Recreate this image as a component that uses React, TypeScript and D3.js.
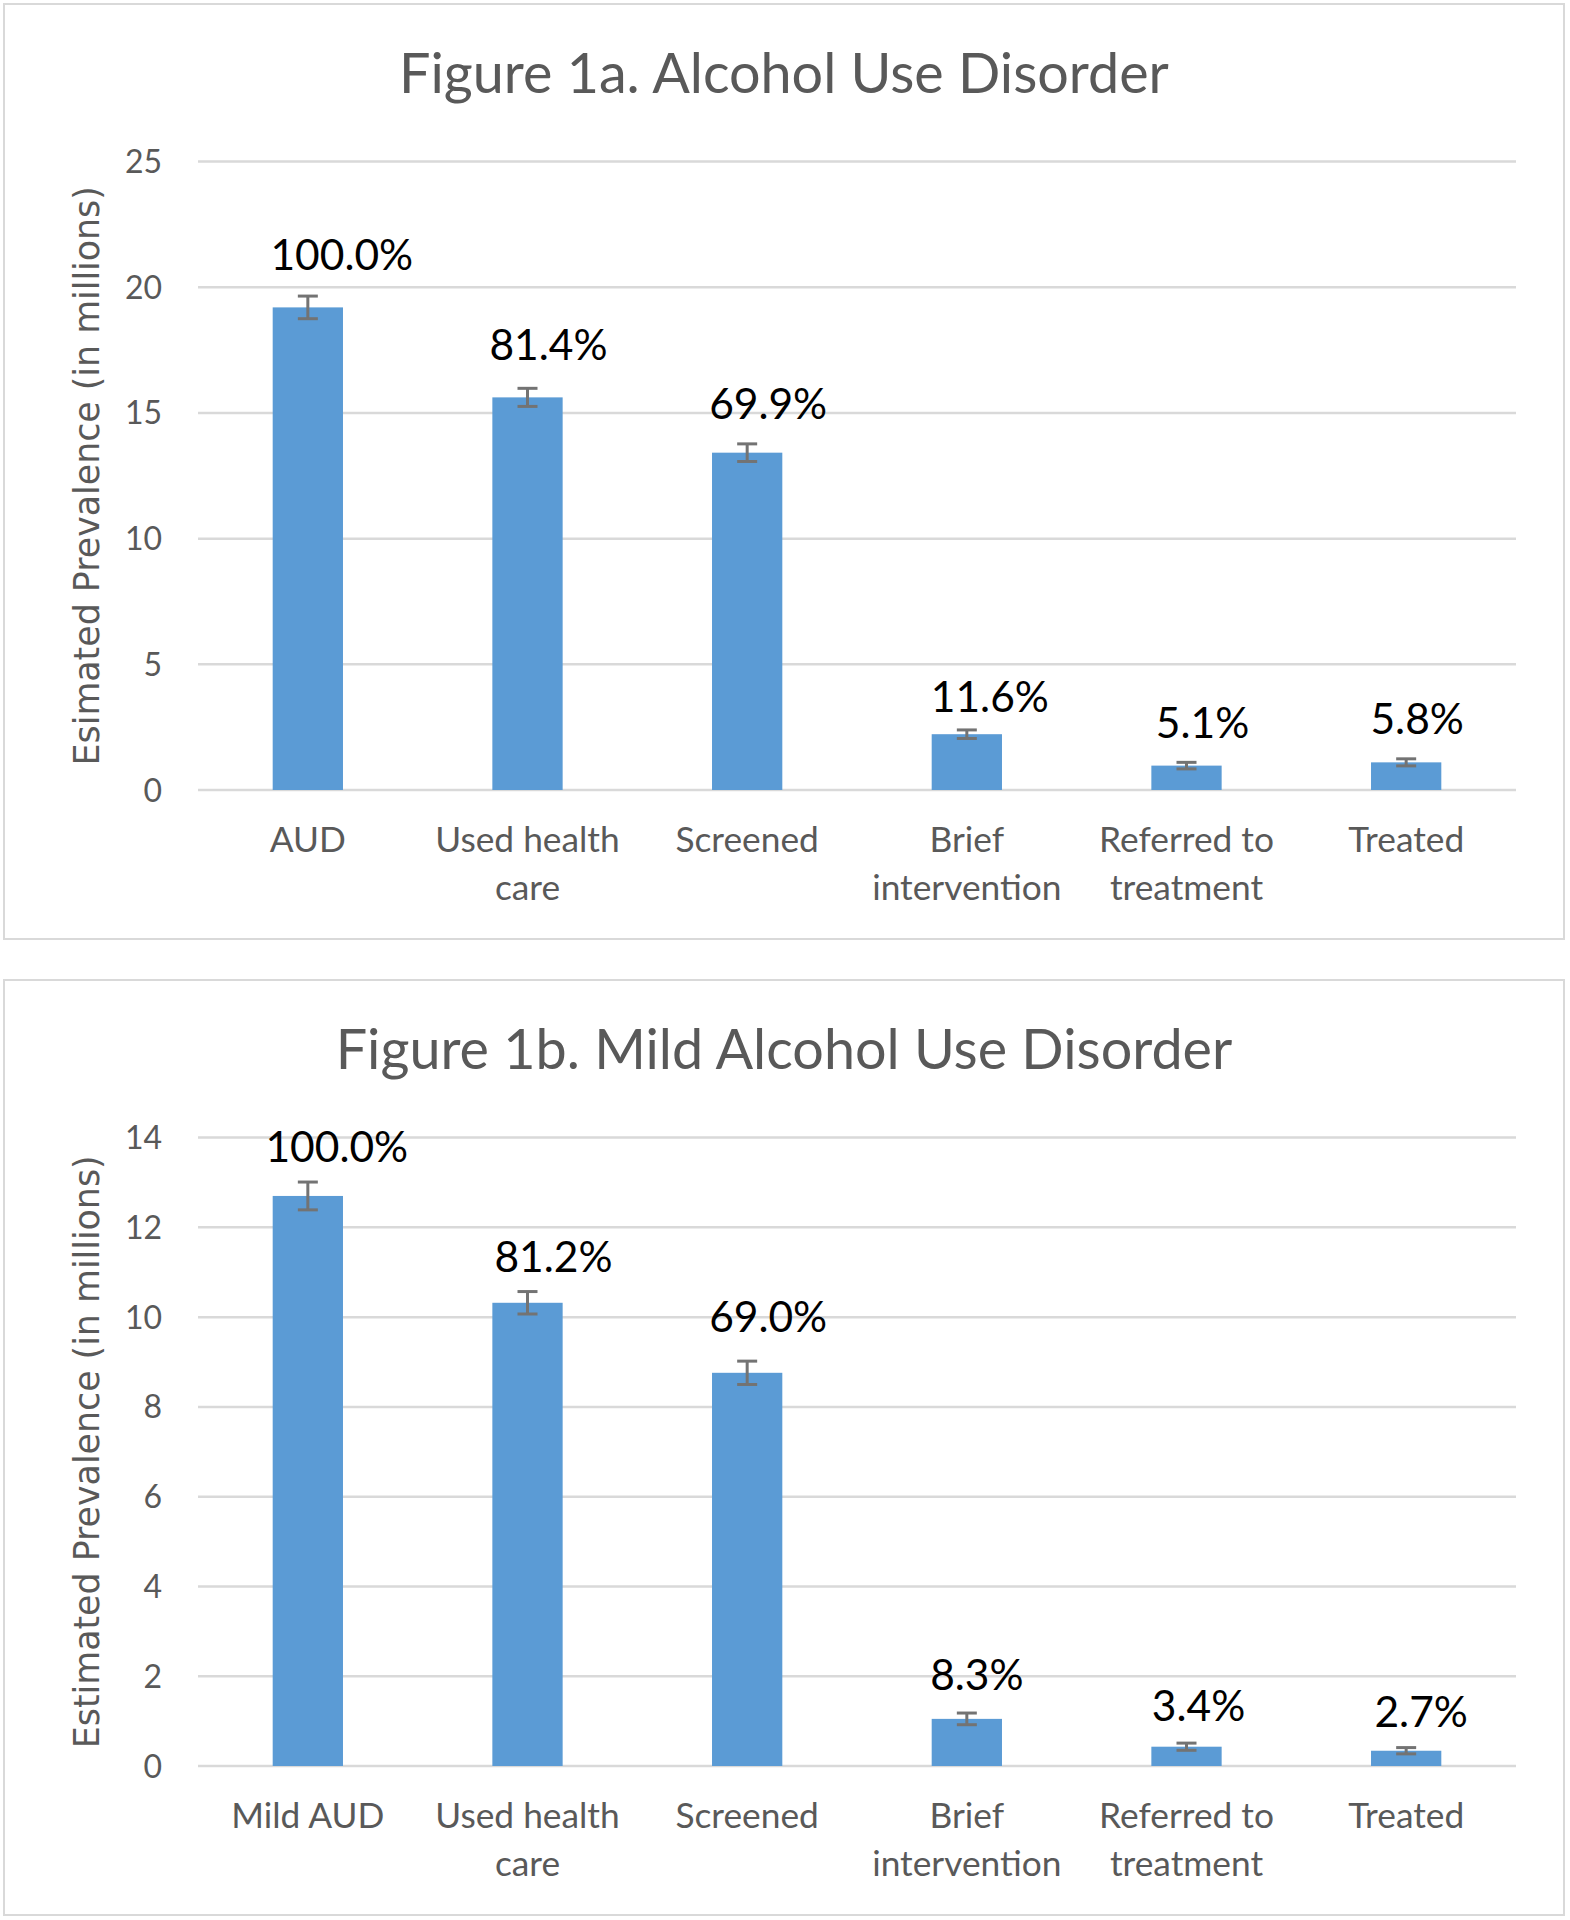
import React from "react";
import * as d3 from "d3";

// ---------- data ----------
const categoriesA: string[][] = [["AUD"], ["Used health", "care"], ["Screened"], ["Brief", "intervention"], ["Referred to", "treatment"], ["Treated"]];
const valuesA: number[] = [19.2, 15.62, 13.42, 2.22, 0.97, 1.1];
const errorsA: number[] = [0.45, 0.36, 0.35, 0.17, 0.13, 0.14];
const percentLabelsA: string[] = ["100.0%", "81.4%", "69.9%", "11.6%", "5.1%", "5.8%"];
const ticksA: number[] = [0, 5, 10, 15, 20, 25];

const categoriesB: string[][] = [["Mild AUD"], ["Used health", "care"], ["Screened"], ["Brief", "intervention"], ["Referred to", "treatment"], ["Treated"]];
const valuesB: number[] = [12.7, 10.32, 8.76, 1.05, 0.43, 0.34];
const errorsB: number[] = [0.31, 0.25, 0.26, 0.13, 0.08, 0.07];
const percentLabelsB: string[] = ["100.0%", "81.2%", "69.0%", "8.3%", "3.4%", "2.7%"];
const ticksB: number[] = [0, 2, 4, 6, 8, 10, 12, 14];

// ---------- layout (manual label placement as in the source) ----------
const labelDxA = [34, 21, 21, 23, 16, 11];
const labelGapA = [37, 37, 34, 22, 28, 28];
const labelDxB = [29, 26, 21, 10, 12, 15];
const labelGapB = [34, 31, 41, 29, 26, 24];

const W = 1570;
const H = 1920;
const GRID = "#d9d9d9";
const TEXT = "#595959";
const BAR = "#5b9bd5";
const ERR = "#737373";
const SANS = "Lato, 'Open Sans', sans-serif";

type ChartProps = {
  top: number;
  title: string;
  yTitle: string;
  categories: string[][];
  values: number[];
  errors: number[];
  labels: string[];
  ticks: number[];
  labelDx: number[];
  labelGap: number[];
};

function Chart(p: ChartProps) {
  const panelX0 = 4, panelX1 = 1564;
  const panelH = 935;
  const plotLeft = 198, plotRight = 1516;
  const plotTop = p.top + 161.6, plotBottom = p.top + 790;
  const yMax = p.ticks[p.ticks.length - 1];
  const x = d3.scaleBand<number>()
    .domain(d3.range(p.values.length))
    .range([plotLeft, plotRight])
    .paddingInner(0.68)
    .paddingOuter(0.34);
  const y = d3.scaleLinear().domain([0, yMax]).range([plotBottom, plotTop]);
  const bw = x.bandwidth();
  const capW = 20;
  return (
    <g>
      <rect x={panelX0} y={p.top + 4} width={panelX1 - panelX0} height={panelH} fill="#fff" stroke={GRID} strokeWidth={2} />
      <text x={(panelX0 + panelX1) / 2} y={p.top + 93} textAnchor="middle" fontFamily={SANS} fontSize={55.7} fill={TEXT}>{p.title}</text>
      {p.ticks.map((t) => (
        <g key={t}>
          <line x1={plotLeft} x2={plotRight} y1={y(t)} y2={y(t)} stroke={GRID} strokeWidth={2.5} />
          <text x={162} y={y(t)} dy="0.36em" textAnchor="end" fontFamily={SANS} fontSize={32} fill={TEXT}>{t}</text>
        </g>
      ))}
      <text transform={`translate(99,${(plotTop + plotBottom) / 2}) rotate(-90)`} textAnchor="middle" fontFamily="'DejaVu Sans', Verdana, sans-serif" fontSize={34.8} fill={TEXT}>{p.yTitle}</text>
      {p.values.map((v, i) => {
        const cx = (x(i) as number) + bw / 2;
        return (
          <g key={i}>
            <rect x={x(i)} y={y(v)} width={bw} height={plotBottom - y(v)} fill={BAR} />
            <line x1={cx} x2={cx} y1={y(v + p.errors[i])} y2={y(v - p.errors[i])} stroke={ERR} strokeWidth={3} />
            <line x1={cx - capW / 2} x2={cx + capW / 2} y1={y(v + p.errors[i])} y2={y(v + p.errors[i])} stroke={ERR} strokeWidth={3} />
            <line x1={cx - capW / 2} x2={cx + capW / 2} y1={y(v - p.errors[i])} y2={y(v - p.errors[i])} stroke={ERR} strokeWidth={3} />
            <text x={cx + p.labelDx[i]} y={y(v) - p.labelGap[i]} textAnchor="middle" fontFamily={SANS} fontSize={42.5} fill="#000">{p.labels[i]}</text>
            {p.categories[i].map((line, k) => (
              <text key={k} x={cx} y={plotBottom + 62 + k * 47.5} textAnchor="middle" fontFamily={SANS} fontSize={35.3} fill={TEXT}>{line}</text>
            ))}
          </g>
        );
      })}
    </g>
  );
}

export default function App() {
  return (
    <svg width={W} height={H} viewBox={`0 0 ${W} ${H}`} style={{ position: "absolute", left: 0, top: 0, background: "#fff" }}>
      <rect x={0} y={0} width={W} height={H} fill="#fff" />
      <Chart top={0} title="Figure 1a. Alcohol Use Disorder" yTitle="Esimated Prevalence (in millions)"
        categories={categoriesA} values={valuesA} errors={errorsA} labels={percentLabelsA} ticks={ticksA}
        labelDx={labelDxA} labelGap={labelGapA} />
      <Chart top={976} title="Figure 1b. Mild Alcohol Use Disorder" yTitle="Estimated Prevalence (in millions)"
        categories={categoriesB} values={valuesB} errors={errorsB} labels={percentLabelsB} ticks={ticksB}
        labelDx={labelDxB} labelGap={labelGapB} />
    </svg>
  );
}
